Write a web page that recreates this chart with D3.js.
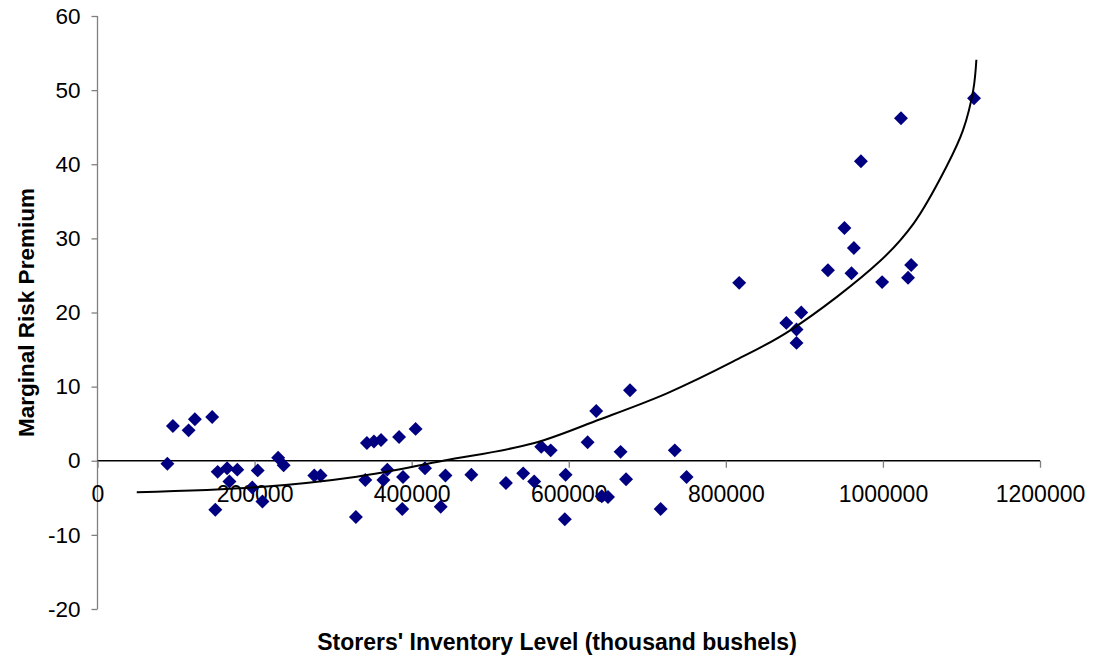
<!DOCTYPE html>
<html>
<head>
<meta charset="utf-8">
<script src="https://cdn.jsdelivr.net/npm/d3@7/dist/d3.min.js"></script>
<style>
  html, body { margin: 0; padding: 0; background: #fff; }
  svg { display: block; font-family: "Liberation Sans", Arial, sans-serif; }
</style>
</head>
<body>
<svg id="chart" width="1094" height="669"></svg>
<script>
// Scatter data: storers' inventory level (thousand bushels) vs marginal risk premium
const inventory = [
  89000, 96000, 116000, 124000, 146000, 153000, 150000, 165000, 168000, 178000,
  197000, 204000, 210000, 230000, 237000, 276000, 284000, 329000, 341000, 343000,
  352000, 361000, 369000, 364000, 384000, 389000, 388000, 405000, 417000, 443000,
  437000, 476000, 520000, 542000, 556000, 565000, 577000, 596000, 595000, 624000,
  635000, 642000, 650000, 666000, 673000, 678000, 717000, 735000, 750000, 817000,
  877000, 896000, 890000, 890000, 930000, 960000, 951000, 963000, 972000, 999000,
  1032000, 1036000, 1023000, 1116000
];
const premium = [
  -0.4, 4.7, 4.1, 5.6, 5.9, -1.5, -6.6, -1.0, -2.8, -1.2,
  -3.6, -1.3, -5.5, 0.4, -0.6, -2.0, -2.0, -7.6, -2.6, 2.4,
  2.6, 2.8, -1.2, -2.6, 3.2, -2.2, -6.5, 4.3, -1.0, -2.0,
  -6.2, -1.9, -3.0, -1.7, -2.8, 1.9, 1.4, -1.9, -7.9, 2.5,
  6.7, -4.8, -4.9, 1.2, -2.5, 9.5, -6.5, 1.4, -2.2, 24.0,
  18.6, 20.0, 17.7, 15.9, 25.7, 25.3, 31.4, 28.7, 40.4, 24.1,
  24.7, 26.4, 46.2, 48.9
];
// Fitted curve
const curveX = [50000, 202700, 330000, 440000, 555000, 640000, 725000, 809500, 882000, 996000, 1039000, 1081000, 1102000, 1115000, 1119000];
const curveY = [-4.26, -3.58, -2.15, 0, 2.35, 5.6, 9.1, 13.4, 17.6, 26.9, 32.0, 39.7, 44.6, 50.0, 54.1];
// Axis ticks
const xTicks = [0, 200000, 400000, 600000, 800000, 1000000, 1200000];
const yTicks = [-20, -10, 0, 10, 20, 30, 40, 50, 60];

const xTitle = "Storers' Inventory Level (thousand bushels)";
const yTitle = "Marginal Risk Premium";

(function () {
const svg = d3.select("#chart");
const mLeft = 97.5, mRight = 1040, mTop = 16, mBottom = 609;
const fmt = d => String(d);

const x = d3.scaleLinear().domain([0, 1200000]).range([mLeft, mRight]);
const y = d3.scaleLinear().domain([-20, 60]).range([mBottom, mTop]);

// Y axis (grey line, ticks outside)
const yAxis = svg.append("g")
  .attr("transform", `translate(${mLeft},0)`)
  .call(d3.axisLeft(y).tickValues(yTicks).tickSize(6).tickPadding(11).tickFormat(fmt));
yAxis.select(".domain").attr("stroke", "#808080").attr("stroke-width", 1.3).attr("d", `M0,${mTop}V${mBottom}`);
yAxis.selectAll(".tick line").attr("stroke", "#808080").attr("stroke-width", 1.3);
yAxis.selectAll(".tick text").attr("font-size", 22.5).attr("fill", "#000")
  .attr("font-family", "'Liberation Sans', Arial, sans-serif");

// X axis at y = 0 (black line, ticks down)
const xAxis = svg.append("g")
  .attr("transform", `translate(0,${y(0)})`)
  .call(d3.axisBottom(x).tickValues(xTicks).tickSize(7).tickPadding(18).tickFormat(fmt));
xAxis.select(".domain").attr("stroke", "#000").attr("stroke-width", 1.5).attr("d", `M${mLeft},0H${mRight}`);
xAxis.selectAll(".tick line").attr("stroke", "#808080").attr("stroke-width", 1.3);
xAxis.selectAll(".tick text").attr("font-size", 23).attr("fill", "#000")
  .attr("font-family", "'Liberation Sans', Arial, sans-serif");

// Points (navy diamonds)
const pts = inventory.map((v, i) => ({ x: v, y: premium[i] }));
const diamond = d3.symbol().type(d3.symbolDiamond2).size(124);
svg.append("g").selectAll("path").data(pts).join("path")
  .attr("d", diamond)
  .attr("transform", d => `translate(${x(d.x)},${y(d.y)})`)
  .attr("fill", "#000080");

// Fitted curve
const cpts = curveX.map((v, i) => [v, curveY[i]]);
svg.append("path")
  .datum(cpts)
  .attr("fill", "none")
  .attr("stroke", "#000")
  .attr("stroke-width", 2)
  .attr("d", d3.line().x(d => x(d[0])).y(d => y(d[1])).curve(d3.curveCatmullRom.alpha(0.5)));

// Axis titles
svg.append("text")
  .attr("x", 557).attr("y", 650)
  .attr("text-anchor", "middle")
  .attr("font-size", 23).attr("font-weight", "bold")
  .text(xTitle);

svg.append("text")
  .attr("transform", `translate(34,${(mTop + mBottom) / 2}) rotate(-90)`)
  .attr("text-anchor", "middle")
  .attr("font-size", 22.5).attr("font-weight", "bold")
  .text(yTitle);
})();
</script>
</body>
</html>
